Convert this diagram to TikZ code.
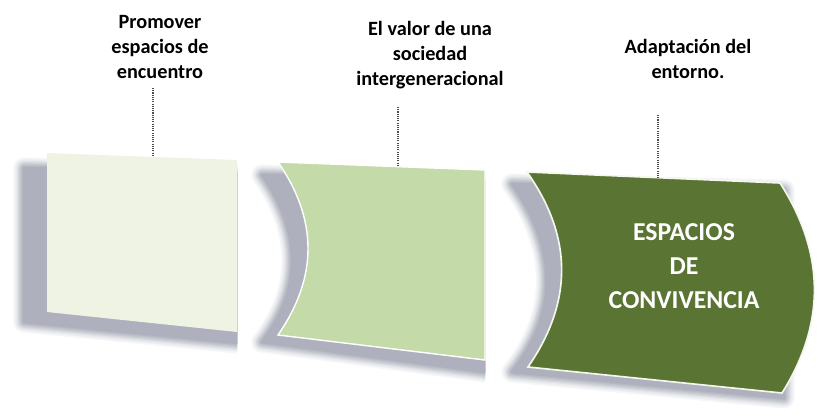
\documentclass[tikz,border=0pt]{standalone}
\usepackage{fontspec}
\setmainfont{Carlito}
\definecolor{paleverde}{RGB}{238,243,227}
\definecolor{medioverde}{RGB}{196,218,168}
\definecolor{oscuroverde}{RGB}{90,116,52}
\definecolor{sombra}{RGB}{146,150,166}
\tikzset{
  etiqueta/.style={align=center,font=\bfseries\fontsize{17.3}{21.3}\selectfont},
  guia/.style={densely dotted,line width=0.9pt,gray!60!black},
  sombracapa/.style={line join=round,draw=sombra!#1!white,fill=sombra!#1!white}
}
\begin{document}
\begin{tikzpicture}[x=0.03cm,y=-0.03cm]
            \useasboundingbox (0,0) rectangle (819,417);
            \begin{scope}
              \clip (0,0) rectangle (237,417);
              \foreach \w/\c in {18/9,15/18,12/28,10/38,8/48,6/57,4/66,2/74}
                \draw[sombracapa=\c,line width=\w pt] (24,168) -- (237,172) -- (237,343) -- (24,322) -- cycle;
            \end{scope}
            \begin{scope}
              \clip (240,0) rectangle (485,417);
              \foreach \w/\c in {18/9,15/18,12/28,10/38,8/48,6/57,4/66,2/74}
                \draw[sombracapa=\c,line width=\w pt] (262,175) .. controls (302,232) and (302,290) .. (262,342) -- (485,372) -- (485,180) -- cycle;
            \end{scope}
            \begin{scope}
              \clip (490,0) rectangle (795,417);
              \foreach \w/\c in {18/9,15/18,12/28,10/38,8/48,6/57,4/66,2/74}
                \draw[sombracapa=\c,line width=\w pt] (512,184) .. controls (558,249) and (558,314) .. (512,372) -- (784,398) -- (784,190) -- cycle;
            \end{scope}
            \fill[paleverde] (47,153) -- (237,160) -- (237,332) -- (47,312) -- cycle;
            \draw[white,line width=1.2pt,fill=medioverde] (278,162) .. controls (318,220) and (318,277) .. (278,335) -- (485,360) -- (485,170) -- cycle;
            \draw[white!80!medioverde,line width=1.4pt,fill=oscuroverde] (527,172) .. controls (573,237) and (573,302) .. (528,367) -- (782,393) .. controls (826,323) and (825,253) .. (780,183) -- cycle;
            \node[etiqueta] (lblencuentro) at (160,47) {Promover\\espacios de\\encuentro};
            \node[etiqueta] (lblvalor) at (430,55) {El valor de una\\sociedad\\intergeneracional};
            \node[etiqueta] (lblentorno) at (688,58.5) {Adaptación del\\entorno.};
            \node[align=center,text=white,font=\bfseries\fontsize{22}{29}\selectfont] (convivencia) at (684,266) {ESPACIOS\\DE\\CONVIVENCIA};
            \coordinate (g1a) at (153,88);
            \coordinate (g1b) at (153,157);
            \coordinate (g2a) at (398,107);
            \coordinate (g2b) at (398,166.5);
            \coordinate (g3a) at (658,115);
            \coordinate (g3b) at (658,177.5);
            \draw[guia] (g1a) -- (g1b);
            \draw[guia] (g2a) -- (g2b);
            \draw[guia] (g3a) -- (g3b);
        \end{tikzpicture}
\end{document}
